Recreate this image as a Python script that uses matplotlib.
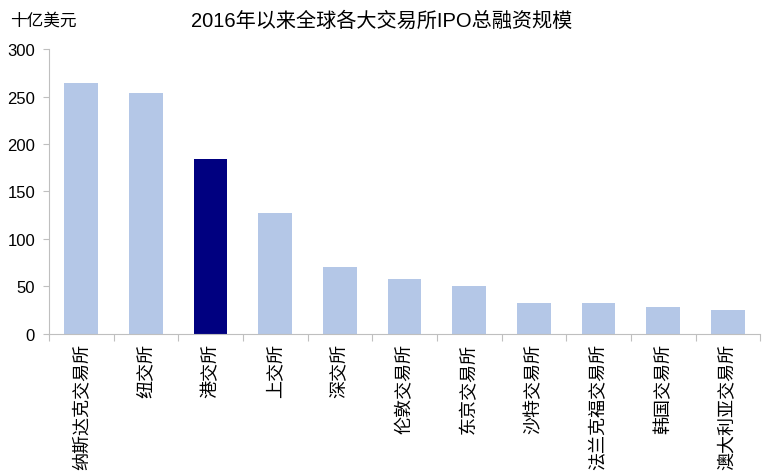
import matplotlib.pyplot as plt
import numpy as np

plt.rcParams['font.family'] = ['Liberation Sans', 'Noto Sans CJK SC', 'DejaVu Sans']

# data
exchanges = ['纳斯达克交易所', '纽交所', '港交所', '上交所', '深交所', '伦敦交易所',
             '东京交易所', '沙特交易所', '法兰克福交易所', '韩国交易所', '澳大利亚交易所']
ipo_total = [264, 254, 184, 127, 70, 58, 50, 32, 32, 28, 25]
highlight = '港交所'

light = '#B4C7E7'
dark = '#000080'
colors = [dark if e == highlight else light for e in exchanges]

fig = plt.figure(figsize=(7.64, 4.77), dpi=100)
ax = fig.add_axes([0.064, 0.298, 0.931, 0.597])

x = np.arange(len(exchanges))
ax.bar(x, ipo_total, width=0.52, color=colors)

ax.set_xlim(-0.5, len(exchanges) - 0.5)
ax.set_ylim(0, 300)
ax.set_yticks(range(0, 301, 50))
ax.tick_params(axis='y', labelsize=12, length=4, color='#BFBFBF', pad=6)

# ticks sit between categories, labels centred under bars
ax.set_xticks(np.arange(-0.5, len(exchanges), 1.0))
ax.set_xticklabels([])
ax.tick_params(axis='x', length=5, color='#BFBFBF')
for i, name in enumerate(exchanges):
    ax.text(i, -10, name, rotation=90, ha='center', va='top', fontsize=13,
            family=['Noto Sans CJK SC'])

for s in ['top', 'right']:
    ax.spines[s].set_visible(False)
for s in ['left', 'bottom']:
    ax.spines[s].set_color('#BFBFBF')

fig.text(0.013, 0.955, '十亿美元', fontsize=12, family=['Noto Sans CJK SC'], va='center')
fig.text(0.5, 0.955, '2016年以来全球各大交易所IPO总融资规模', fontsize=14.5, ha='center', va='center',
         family=['Liberation Sans', 'Noto Sans CJK SC'])

fig.savefig('out.png', dpi=100, facecolor='white')
